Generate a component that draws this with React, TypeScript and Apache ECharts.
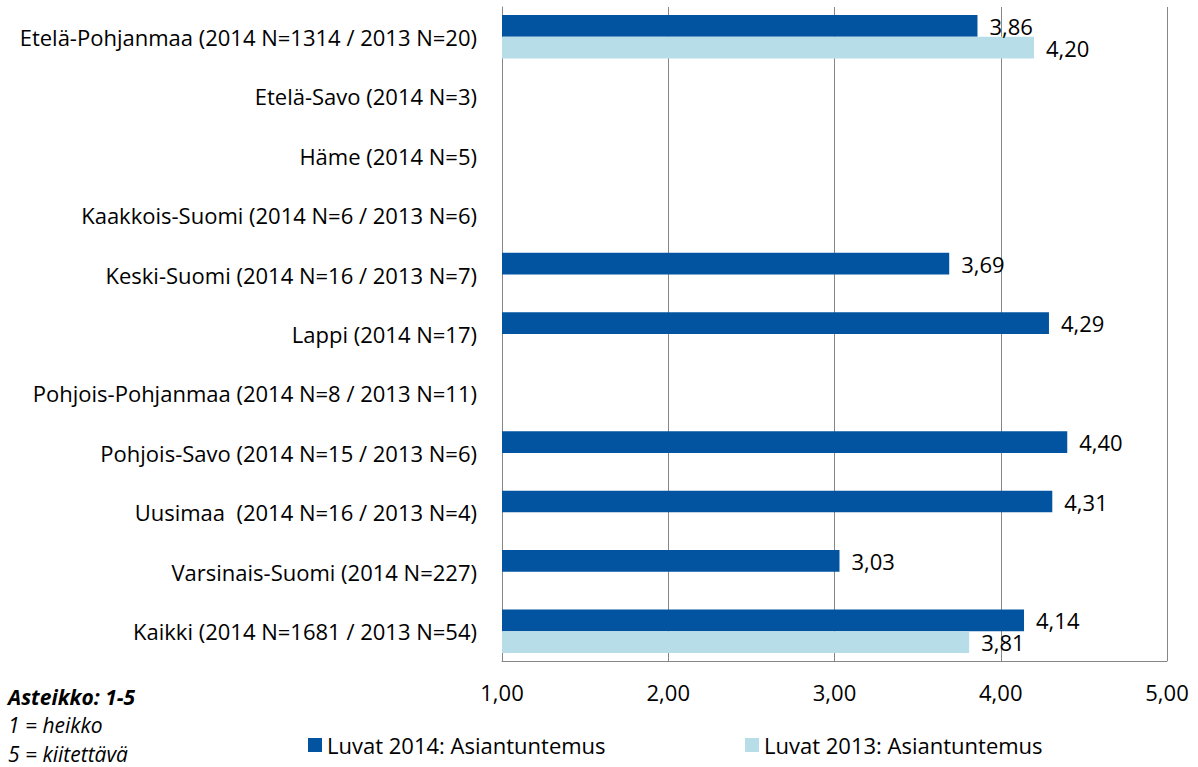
import React, { useEffect, useRef } from "react";
import * as echarts from "echarts";

const categories = [
  "Etelä-Pohjanmaa (2014 N=1314 / 2013 N=20)",
  "Etelä-Savo (2014 N=3)",
  "Häme (2014 N=5)",
  "Kaakkois-Suomi (2014 N=6 / 2013 N=6)",
  "Keski-Suomi (2014 N=16 / 2013 N=7)",
  "Lappi (2014 N=17)",
  "Pohjois-Pohjanmaa (2014 N=8 / 2013 N=11)",
  "Pohjois-Savo (2014 N=15 / 2013 N=6)",
  "Uusimaa  (2014 N=16 / 2013 N=4)",
  "Varsinais-Suomi (2014 N=227)",
  "Kaikki (2014 N=1681 / 2013 N=54)",
];

const values2014: (number | null)[] = [3.86, null, null, null, 3.69, 4.29, null, 4.4, 4.31, 3.03, 4.14];
const values2013: (number | null)[] = [4.2, null, null, null, null, null, null, null, null, null, 3.81];

const xTicks = { min: 1, max: 5, interval: 1 };

const seriesNames = ["Luvat 2014: Asiantuntemus", "Luvat 2013: Asiantuntemus"];
const colors = ["#0254A0", "#B7DEE8"];

const scaleNotes = ["Asteikko: 1-5", "1 = heikko", "5 = kiitettävä"];

const FONT = "Open Sans";
const FS = 22;

const fmt = (v: number) => v.toFixed(2).replace(".", ",");

export default function App() {
  const ref = useRef<HTMLDivElement>(null);
  useEffect(() => {
    document.body.style.margin = "0";
    if (!ref.current) return;
    const chart = echarts.init(ref.current, undefined, { renderer: "svg" });
    const label = {
      show: true,
      position: "right" as const,
      distance: 12,
      color: "#000",
      fontFamily: FONT,
      fontSize: FS,
      formatter: (p: any) => fmt(p.value),
    };
    const legendText = { fontFamily: FONT, fontSize: FS, color: "#000" };
    chart.setOption({
      animation: false,
      textStyle: { fontFamily: FONT },
      grid: { left: 502, right: 31, top: 7, bottom: 106, containLabel: false },
      xAxis: {
        type: "value",
        min: xTicks.min,
        max: xTicks.max,
        interval: xTicks.interval,
        axisLine: { show: true, lineStyle: { color: "#868686" } },
        axisTick: { show: false },
        splitLine: { show: true, lineStyle: { color: "#868686", width: 1 } },
        axisLabel: {
          color: "#000",
          fontFamily: FONT,
          fontSize: FS,
          margin: 20,
          formatter: (v: number) => fmt(v),
        },
      },
      yAxis: {
        type: "category",
        data: categories,
        inverse: true,
        axisLine: { show: true, lineStyle: { color: "#868686" } },
        axisTick: { show: false },
        axisLabel: { color: "#000", fontFamily: FONT, fontSize: FS, margin: 25 },
      },
      legend: [
        {
          data: [seriesNames[0]],
          left: 303,
          top: 729,
          itemWidth: 14,
          itemHeight: 14,
          itemGap: 0,
          icon: "rect",
          textStyle: legendText,
        },
        {
          data: [seriesNames[1]],
          left: 740,
          top: 729,
          itemWidth: 14,
          itemHeight: 14,
          itemGap: 0,
          icon: "rect",
          textStyle: legendText,
        },
      ],
      graphic: scaleNotes.map((t, i) => ({
        type: "text",
        left: 8,
        top: [686, 714, 743][i],
        style: {
          text: t,
          font: `italic ${i === 0 ? "bold " : ""}${FS - 1}px "${FONT}"`,
          fill: "#000",
        },
      })),
      series: [
        {
          name: seriesNames[0],
          type: "bar",
          data: values2014,
          itemStyle: { color: colors[0] },
          barGap: "0%",
          barCategoryGap: "27%",
          label,
        },
        {
          name: seriesNames[1],
          type: "bar",
          data: values2013,
          itemStyle: { color: colors[1] },
          barGap: "0%",
          barCategoryGap: "27%",
          label,
        },
      ],
    });
    return () => chart.dispose();
  }, []);
  return <div ref={ref} style={{ width: 1198, height: 767 }} />;
}
